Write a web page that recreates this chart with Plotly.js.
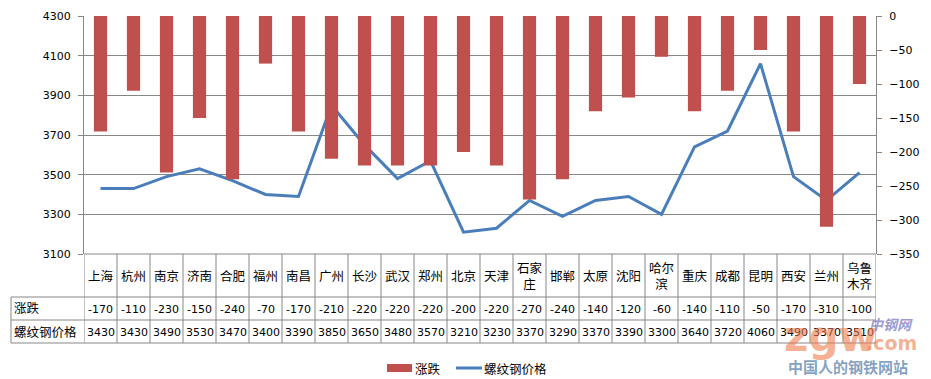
<!DOCTYPE html>
<html>
<head>
<meta charset="utf-8">
<script src="https://cdn.plot.ly/plotly-3.0.1.min.js"></script>
<style>html,body{margin:0;padding:0;background:#fff;}#chart{width:931px;height:379px;}</style>
</head>
<body>
<div id="chart"></div>
<script>
var cities = ["上海","杭州","南京","济南","合肥","福州","南昌","广州","长沙","武汉","郑州","北京","天津","石家庄","邯郸","太原","沈阳","哈尔滨","重庆","成都","昆明","西安","兰州","乌鲁木齐"];
var cityLabels = ["上海","杭州","南京","济南","合肥","福州","南昌","广州","长沙","武汉","郑州","北京","天津","石家<br>庄","邯郸","太原","沈阳","哈尔<br>滨","重庆","成都","昆明","西安","兰州","乌鲁<br>木齐"];
var changes = [-170,-110,-230,-150,-240,-70,-170,-210,-220,-220,-220,-200,-220,-270,-240,-140,-120,-60,-140,-110,-50,-170,-310,-100];
var prices = [3430,3430,3490,3530,3470,3400,3390,3850,3650,3480,3570,3210,3230,3370,3290,3370,3390,3300,3640,3720,4060,3490,3370,3510];
var seriesNames = ["涨跌","螺纹钢价格"];

var W = 931, H = 379;
var L = 84, R = 876, T = 16, B = 254;
var pw = R - L, ph = B - T;
function px(x){ return (x - L) / pw; }
function py(y){ return (B - y) / ph; }
var gridC = '#878787';
var barC = '#C0504D', lineC = '#4A7EBB';
var numFont = {family: 'DejaVu Sans, Verdana, sans-serif', size: 11, color: '#000'};
var cjkFont = {family: 'Noto Sans CJK SC, sans-serif', size: 12.5, color: '#000'};

var idx = cities.map(function(c,i){return i;});

var traces = [
  {type:'bar', x: idx, y: changes, yaxis:'y2', name: seriesNames[0], width: 0.4,
   marker:{color:barC}, hoverinfo:'y'},
  {type:'scatter', mode:'lines', x: idx, y: prices, yaxis:'y', name: seriesNames[1],
   line:{color:lineC, width:3}, hoverinfo:'y'}
];

var shapes = [];
var annotations = [];
function hline(y, x0, x1){ shapes.push({type:'line', xref:'paper', yref:'paper', x0:px(x0), x1:px(x1), y0:py(y), y1:py(y), line:{color:gridC, width:1}}); }
hline(254, L, R);
hline(297, 11, R);
hline(320, 11, R);
hline(343, 11, R);
shapes.push({type:'line', xref:'paper', yref:'paper', x0:px(11), x1:px(11), y0:py(297), y1:py(343), line:{color:gridC, width:1}});
for (var i = 0; i <= cities.length; i++) {
  shapes.push({type:'line', xref:'x', yref:'paper', x0:i-0.5, x1:i-0.5, y0:py(254), y1:py(343), line:{color:gridC, width:1}});
}
cities.forEach(function(c, i){
  annotations.push({xref:'x', yref:'paper', x:i, y:py(275.5), text:cityLabels[i], showarrow:false, font:cjkFont, xanchor:'center', yanchor:'middle'});
  annotations.push({xref:'x', yref:'paper', x:i, y:py(309), text:String(changes[i]), showarrow:false, font:numFont, xanchor:'center', yanchor:'middle'});
  annotations.push({xref:'x', yref:'paper', x:i, y:py(332), text:String(prices[i]), showarrow:false, font:numFont, xanchor:'center', yanchor:'middle'});
});
annotations.push({xref:'paper', yref:'paper', x:px(12), y:py(307), text:seriesNames[0], showarrow:false, font:cjkFont, xanchor:'left', yanchor:'middle'});
annotations.push({xref:'paper', yref:'paper', x:px(12), y:py(331), text:seriesNames[1], showarrow:false, font:cjkFont, xanchor:'left', yanchor:'middle'});

// custom legend
shapes.push({type:'rect', xref:'paper', yref:'paper', x0:px(387), x1:px(412), y0:py(364), y1:py(372), fillcolor:barC, line:{width:0}});
annotations.push({xref:'paper', yref:'paper', x:px(413), y:py(368), text:seriesNames[0], showarrow:false, font:cjkFont, xanchor:'left', yanchor:'middle'});
shapes.push({type:'line', xref:'paper', yref:'paper', x0:px(456), x1:px(482), y0:py(368), y1:py(368), line:{color:lineC, width:3}});
annotations.push({xref:'paper', yref:'paper', x:px(482), y:py(368), text:seriesNames[1], showarrow:false, font:cjkFont, xanchor:'left', yanchor:'middle'});

// watermark (logo of the source site)
annotations.push({xref:'paper', yref:'paper', x:px(782), y:py(336), text:'<b>zgw</b>', showarrow:false, font:{family:'DejaVu Sans, sans-serif', size:42, color:'rgba(240,125,75,0.6)'}, xanchor:'left', yanchor:'middle'});
annotations.push({xref:'paper', yref:'paper', x:px(864), y:py(343), text:'<b>.com</b>', showarrow:false, font:{family:'DejaVu Sans, sans-serif', size:19, color:'rgba(240,125,75,0.6)'}, xanchor:'left', yanchor:'middle'});
annotations.push({xref:'paper', yref:'paper', x:px(867), y:py(324), text:'<b><i>中钢网</i></b>', showarrow:false, font:{family:'Noto Sans CJK SC, sans-serif', size:14, color:'rgba(110,110,190,0.7)'}, xanchor:'left', yanchor:'middle'});
annotations.push({xref:'paper', yref:'paper', x:px(786), y:py(366), text:'<b>中国人的钢铁网站</b>', showarrow:false, font:{family:'Noto Sans CJK SC, sans-serif', size:15, color:'rgba(110,145,185,0.85)'}, xanchor:'left', yanchor:'middle'});

var layout = {
  width: W, height: H,
  margin: {l: L, r: W - R, t: T, b: H - B, pad: 0, autoexpand: false},
  paper_bgcolor: '#fff', plot_bgcolor: '#fff',
  showlegend: false,
  xaxis: {range: [-0.5, cities.length - 0.5], showticklabels:false, showgrid:false, zeroline:false, showline:false, ticks:'', fixedrange:true},
  yaxis: {range: [3100, 4300], dtick: 200, tick0: 3100, showgrid: true, gridcolor: gridC, gridwidth: 1, zeroline:false,
          showline: true, linecolor: gridC, linewidth: 1, ticks: 'outside', ticklen: 5, tickcolor: gridC,
          tickfont: numFont, side:'left', ticklabelstandoff: 5},
  yaxis2: {range: [-350, 0], dtick: 50, tick0: 0, overlaying:'y', side:'right', showgrid:false, zeroline:false,
           showline: true, linecolor: gridC, linewidth: 1, ticks:'outside', ticklen: 5, tickcolor: gridC,
           tickfont: numFont, ticklabelstandoff: 5},
  shapes: shapes,
  annotations: annotations
};

Plotly.newPlot('chart', traces, layout, {displayModeBar:false, staticPlot:true});
</script>
</body>
</html>
